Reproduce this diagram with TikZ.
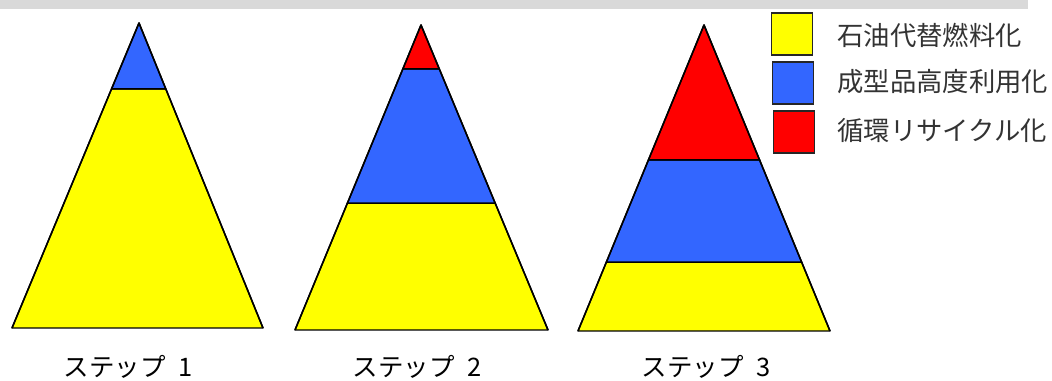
\documentclass[tikz,border=0pt]{standalone}
\usepackage{fontspec}
\newfontfamily\jpfont{Noto Sans CJK JP}
\usetikzlibrary{calc}

\definecolor{fuelyellow}{RGB}{255,255,0}
\definecolor{moldblue}{RGB}{51,102,255}
\definecolor{cyclered}{RGB}{255,0,0}
\definecolor{bandgray}{RGB}{217,217,217}

\begin{document}
\begin{tikzpicture}[
x=0.02cm, y=-0.02cm,
layer/.style={draw=black, line width=0.85pt, line join=round},
key/.style={draw=black!85, line width=1.1pt, minimum width=41*0.02cm, minimum height=42*0.02cm, inner sep=0pt},
keytext/.style={font=\jpfont\fontsize{15pt}{18pt}\selectfont, text=black!80, anchor=west, inner sep=0pt},
steplabel/.style={font=\jpfont\fontsize{14.5pt}{17pt}\selectfont, inner sep=0pt} ]

\useasboundingbox (0,0) rectangle (1052,381);

% clipped title band
\fill[bandgray] (0,0) rectangle (1028,9);

% step 1
\coordinate (A1) at (139,23);
\coordinate (L1) at (12,328);
\coordinate (R1) at (263,328);
\draw[layer, fill=fuelyellow] (L1) -- (R1) -- ($(A1)!0.216!(R1)$) -- ($(A1)!0.216!(L1)$) -- cycle;
\draw[layer, fill=moldblue] (A1) -- ($(A1)!0.216!(R1)$) -- ($(A1)!0.216!(L1)$) -- cycle;
\draw[layer] (L1) -- (A1) -- (R1);

% step 2
\coordinate (A2) at (421,25);
\coordinate (L2) at (295,330);
\coordinate (R2) at (548,330);
\draw[layer, fill=fuelyellow] (L2) -- (R2) -- ($(A2)!0.584!(R2)$) -- ($(A2)!0.584!(L2)$) -- cycle;
\draw[layer, fill=moldblue] ($(A2)!0.584!(L2)$) -- ($(A2)!0.584!(R2)$) -- ($(A2)!0.144!(R2)$) -- ($(A2)!0.144!(L2)$) -- cycle;
\draw[layer, fill=cyclered] (A2) -- ($(A2)!0.144!(R2)$) -- ($(A2)!0.144!(L2)$) -- cycle;
\draw[layer] (L2) -- (A2) -- (R2);

% step 3
\coordinate (A3) at (704,25);
\coordinate (L3) at (578,331);
\coordinate (R3) at (830,331);
\draw[layer, fill=fuelyellow] (L3) -- (R3) -- ($(A3)!0.775!(R3)$) -- ($(A3)!0.775!(L3)$) -- cycle;
\draw[layer, fill=moldblue] ($(A3)!0.775!(L3)$) -- ($(A3)!0.775!(R3)$) -- ($(A3)!0.441!(R3)$) -- ($(A3)!0.441!(L3)$) -- cycle;
\draw[layer, fill=cyclered] (A3) -- ($(A3)!0.441!(R3)$) -- ($(A3)!0.441!(L3)$) -- cycle;
\draw[layer] (L3) -- (A3) -- (R3);

% legend
\node[key, fill=fuelyellow] (k1) at (792,34) {};
\node[key, fill=moldblue] (k2) at (793,83) {};
\node[key, fill=cyclered] (k3) at (794,132) {};
\node[keytext] (t1) at (837,35) {石油代替燃料化};
\node[keytext] (t2) at (837,82) {成型品高度利用化};
\node[keytext] (t3) at (837,130) {循環リサイクル化};

% step labels
\node[steplabel] (s1) at (128,367) {ステップ\hspace{0.5em}1};
\node[steplabel] (s2) at (417,367) {ステップ\hspace{0.5em}2};
\node[steplabel] (s3) at (706,367) {ステップ\hspace{0.5em}3};

\end{tikzpicture}
\end{document}
